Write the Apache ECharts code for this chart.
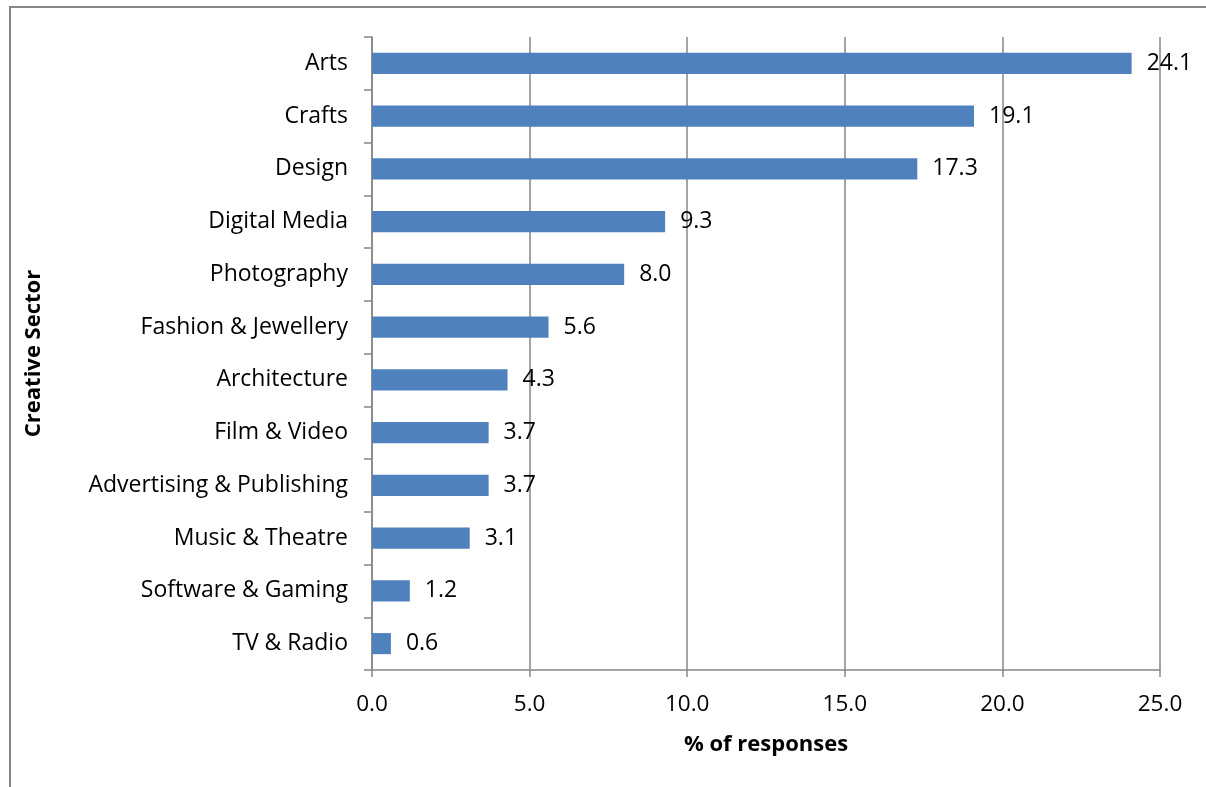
<!DOCTYPE html>
<html>
<head>
<meta charset="utf-8">
<script src="https://cdn.jsdelivr.net/npm/echarts@6/dist/echarts.min.js"></script>
<style>
html,body{margin:0;padding:0;background:#fff;}
#c{width:1206px;height:787px;}
</style>
</head>
<body>
<div id="c"></div>
<script>
const categories = ["Arts","Crafts","Design","Digital Media","Photography","Fashion & Jewellery","Architecture","Film & Video","Advertising & Publishing","Music & Theatre","Software & Gaming","TV & Radio"];
const values = [24.1,19.1,17.3,9.3,8.0,5.6,4.3,3.7,3.7,3.1,1.2,0.6];
const xTicks = {min:0, max:25, interval:5};
const xAxisName = "% of responses";
const yAxisName = "Creative Sector";

const FONT = "'Open Sans', sans-serif";
const GREY = "#868686";
const chart = echarts.init(document.getElementById('c'), null, {renderer:'canvas'});
chart.setOption({
  animation:false,
  backgroundColor:'#fff',
  grid:{left:372, right:46, top:37, bottom:117, containLabel:false},
  xAxis:{
    type:'value', min:xTicks.min, max:xTicks.max, interval:xTicks.interval,
    name:xAxisName, nameLocation:'middle', nameGap:64,
    nameTextStyle:{fontFamily:FONT, fontSize:22, fontWeight:'bold', color:'#000'},
    axisLine:{show:true, lineStyle:{color:GREY, width:1.5}},
    axisTick:{show:true, length:7, lineStyle:{color:GREY, width:1.5}},
    axisLabel:{fontFamily:FONT, fontSize:22.5, color:'#000', margin:23, formatter:v=>v.toFixed(1)},
    splitLine:{show:true, lineStyle:{color:GREY, width:1.5}}
  },
  yAxis:{
    type:'category', data:categories, inverse:true,
    name:yAxisName, nameLocation:'middle', nameGap:327, nameRotate:90,
    nameTextStyle:{fontFamily:FONT, fontSize:22, fontWeight:'bold', color:'#000'},
    axisLine:{show:true, lineStyle:{color:GREY, width:1.5}},
    axisTick:{show:true, length:8, alignWithLabel:false, lineStyle:{color:GREY, width:1.5}},
    axisLabel:{fontFamily:FONT, fontSize:23, color:'#000', margin:24}
  },
  series:[{
    type:'bar', data:values, barCategoryGap:'60%',
    itemStyle:{color:'#4F81BD'},
    label:{show:true, position:'right', distance:15, fontFamily:FONT, fontSize:23, color:'#000', formatter:p=>p.value.toFixed(1)}
  }],
  graphic:[{
    type:'polyline', shape:{points:[[10,787],[10,7],[1206,7]]},
    style:{stroke:GREY, lineWidth:2, fill:null}
  }]
});
</script>
</body>
</html>
